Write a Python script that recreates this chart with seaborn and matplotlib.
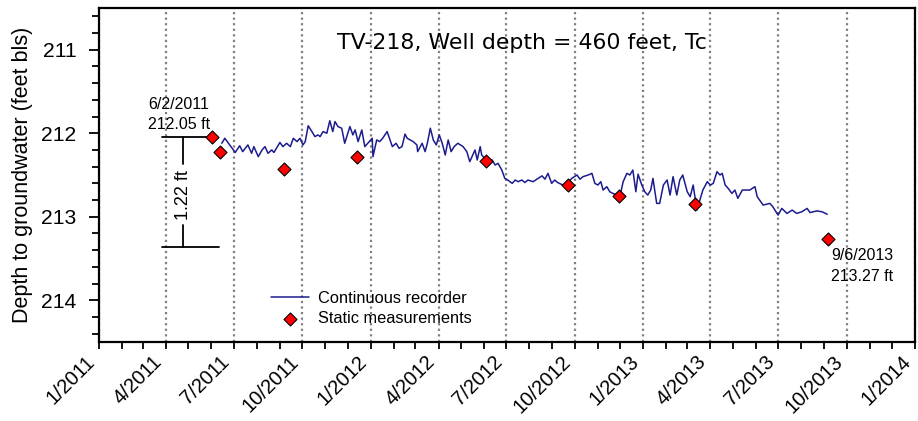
import matplotlib
matplotlib.use("Agg")
import matplotlib.pyplot as plt
import matplotlib.dates as mdates
from matplotlib.ticker import MultipleLocator
from matplotlib.transforms import ScaledTranslation
import seaborn as sns
import pandas as pd

# continuous recorder: days since 1/1/2011 and depth to water (feet bls)
rec_day = [
    165, 169, 183, 189, 193, 200, 205, 208, 214, 219,
    223, 227, 232, 235, 243, 247, 252, 257, 261, 266,
    270, 274, 277, 281, 286, 290, 294, 297, 301, 306,
    310, 314, 317, 321, 326, 330, 337, 341, 344, 348,
    353, 357, 361, 367, 368, 373, 377, 381, 387, 394,
    399, 403, 407, 411, 414, 418, 422, 427, 428, 434,
    438, 441, 445, 449, 453, 457, 461, 465, 469, 473,
    477, 482, 489, 494, 498, 505, 508, 512, 514, 518,
    522, 528, 532, 536, 541, 545, 549, 555, 559, 563,
    568, 572, 576, 583, 590, 595, 599, 603, 608, 612,
    616, 623, 630, 635, 642, 646, 650, 657, 662, 666,
    670, 674, 677, 682, 686, 690, 696, 701, 704, 709,
    713, 717, 721, 724, 729, 733, 737, 741, 744, 749,
    753, 758, 763, 767, 771, 776, 780, 784, 790, 794,
    798, 803, 807, 811, 817, 821, 825, 830, 834, 837,
    841, 845, 850, 854, 858, 864, 874, 881, 884, 892,
    901, 905, 912, 917, 924, 931, 937, 944, 951, 955,
    964, 971, 978,
]
rec_depth = [
    212.12, 212.06, 212.23, 212.15, 212.22, 212.14, 212.24, 212.16, 212.28, 212.20,
    212.16, 212.24, 212.20, 212.23, 212.11, 212.16, 212.12, 212.16, 212.06, 212.10,
    212.06, 212.14, 212.10, 211.91, 211.98, 212.04, 212.02, 212.04, 211.98, 212.00,
    211.85, 211.98, 211.86, 211.92, 211.94, 212.12, 211.92, 212.02, 211.96, 212.10,
    211.96, 212.16, 212.12, 212.06, 212.28, 212.08, 212.10, 212.06, 211.98, 212.16,
    212.12, 212.18, 212.16, 212.01, 212.06, 212.08, 212.10, 212.14, 212.22, 212.12,
    212.22, 212.12, 211.94, 212.08, 212.14, 212.02, 212.12, 212.26, 212.08, 212.22,
    212.16, 212.12, 212.16, 212.22, 212.34, 212.20, 212.32, 212.16, 212.26, 212.30,
    212.32, 212.32, 212.38, 212.36, 212.44, 212.54, 212.56, 212.60, 212.56, 212.58,
    212.56, 212.59, 212.56, 212.58, 212.54, 212.51, 212.55, 212.48, 212.60, 212.56,
    212.59, 212.62, 212.59, 212.54, 212.50, 212.55, 212.52, 212.50, 212.48, 212.60,
    212.62, 212.58, 212.68, 212.64, 212.70, 212.72, 212.74, 212.70, 212.58, 212.48,
    212.50, 212.44, 212.70, 212.49, 212.62, 212.70, 212.74, 212.68, 212.54, 212.84,
    212.84, 212.62, 212.56, 212.74, 212.52, 212.74, 212.56, 212.50, 212.70, 212.76,
    212.62, 212.92, 212.80, 212.68, 212.58, 212.62, 212.60, 212.46, 212.50, 212.48,
    212.62, 212.66, 212.72, 212.68, 212.78, 212.68, 212.68, 212.64, 212.76, 212.86,
    212.84, 212.88, 212.98, 212.90, 212.96, 212.92, 212.96, 212.94, 212.90, 212.95,
    212.93, 212.94, 212.97,
]

# static (tape) measurements
static_date = ["2011-06-02", "2011-06-13", "2011-09-07", "2011-12-14", "2012-06-04",
               "2012-09-22", "2012-11-30", "2013-03-11", "2013-09-06"]
static_depth = [212.05, 212.22, 212.43, 212.29, 212.33, 212.62, 212.75, 212.85, 213.27]

tick_dates = ["2011-01-01", "2011-04-01", "2011-07-01", "2011-10-01", "2012-01-01",
              "2012-04-01", "2012-07-01", "2012-10-01", "2013-01-01", "2013-04-01",
              "2013-07-01", "2013-10-01", "2014-01-01"]
tick_labels = ["1/2011", "4/2011", "7/2011", "10/2011", "1/2012", "4/2012", "7/2012",
               "10/2012", "1/2013", "4/2013", "7/2013", "10/2013", "1/2014"]

title = "TV-218, Well depth = 460 feet, Tc"
first_note = "6/2/2011\n212.05 ft"
last_note = "9/6/2013\n213.27 ft"
change_note = "1.22 ft"

rec = pd.DataFrame({
    "date": pd.Timestamp("2011-01-01") + pd.to_timedelta(rec_day, unit="D"),
    "depth": rec_depth,
})
static = pd.DataFrame({"date": pd.to_datetime(static_date), "depth": static_depth})
ticks = pd.to_datetime(tick_dates)

sns.set_style("ticks")
plt.rcParams["font.family"] = ["Liberation Sans", "DejaVu Sans"]
plt.rcParams.update({"text.color": "black", "axes.labelcolor": "black",
                     "xtick.color": "black", "ytick.color": "black"})

fig = plt.figure(figsize=(9.18, 4.21), dpi=100)
ax = fig.add_axes([0.1078, 0.1876, 0.889, 0.7934])

sns.lineplot(data=rec, x="date", y="depth", ax=ax, color="#1c1c8f", lw=1.1,
             label="Continuous recorder")
sns.scatterplot(data=static, x="date", y="depth", ax=ax, marker="D", s=44,
                color="#ff0000", edgecolor="black", linewidth=0.8,
                label="Static measurements", zorder=5)

ax.set_xlim(ticks[0], ticks[-1])
ax.set_ylim(214.5, 210.5)
ax.xaxis.set_minor_locator(mdates.MonthLocator())
ax.yaxis.set_major_locator(MultipleLocator(1))
ax.yaxis.set_minor_locator(MultipleLocator(0.2))
ax.tick_params(axis="y", which="major", labelsize=15.2, length=7, width=1.3, pad=9)
ax.tick_params(axis="y", which="minor", length=5, width=1.3)
ax.tick_params(axis="x", which="major", length=5, width=1.3, pad=7)
ax.tick_params(axis="x", which="minor", length=5, width=1.3)

ax.set_xticks(ticks)
ax.set_xticklabels(tick_labels, rotation=45, ha="right", va="center",
                   rotation_mode="anchor", fontsize=14.5)
# nudge the slanted date labels a little left of their ticks
# (done after tick_params, which would reset the label transforms)
shift = ScaledTranslation(-5 / 72, 0, fig.dpi_scale_trans)
for lab in ax.get_xticklabels():
    lab.set_transform(lab.get_transform() + shift)

for s in ax.spines.values():
    s.set_linewidth(1.6)
    s.set_color("black")

ax.grid(axis="x", which="major", color="#808080", linestyle=(0, (1, 1.5)), linewidth=1.6)

ax.set_xlabel("")
ax.set_ylabel("Depth to groundwater (feet bls)", fontsize=15.5)
ax.yaxis.set_label_coords(-0.081, 0.5)

ax.text(0.518, 0.895, title, transform=ax.transAxes, ha="center", va="center",
        fontsize=15.8, family="DejaVu Sans")

# change annotation
ax.plot(pd.to_datetime(["2011-03-27", "2011-05-29"]), [212.05, 212.05], color="black", lw=1.3)
ax.plot(pd.to_datetime(["2011-03-27", "2011-06-11"]), [213.36, 213.36], color="black", lw=1.3)
ax.plot(pd.to_datetime(["2011-04-24", "2011-04-24"]), [212.05, 212.37], color="black", lw=1.3)
ax.plot(pd.to_datetime(["2011-04-24", "2011-04-24"]), [213.1, 213.36], color="black", lw=1.3)
ax.text(pd.Timestamp("2011-04-24"), 212.74, change_note, rotation=90, ha="center",
        va="center", fontsize=13)
ax.text(pd.Timestamp("2011-04-18"), 211.99, first_note, ha="center", va="bottom",
        fontsize=11.5, linespacing=1.45)
ax.text(pd.Timestamp("2013-09-10"), 213.38, last_note, ha="left", va="top",
        fontsize=11.5, linespacing=1.45)

ax.legend(frameon=False, loc="center left", bbox_to_anchor=(0.211, 0.1),
          borderpad=0, borderaxespad=0, handlelength=2.3, handletextpad=0.55,
          labelspacing=0.3, fontsize=11.8)

fig.savefig("out.png", dpi=100)
